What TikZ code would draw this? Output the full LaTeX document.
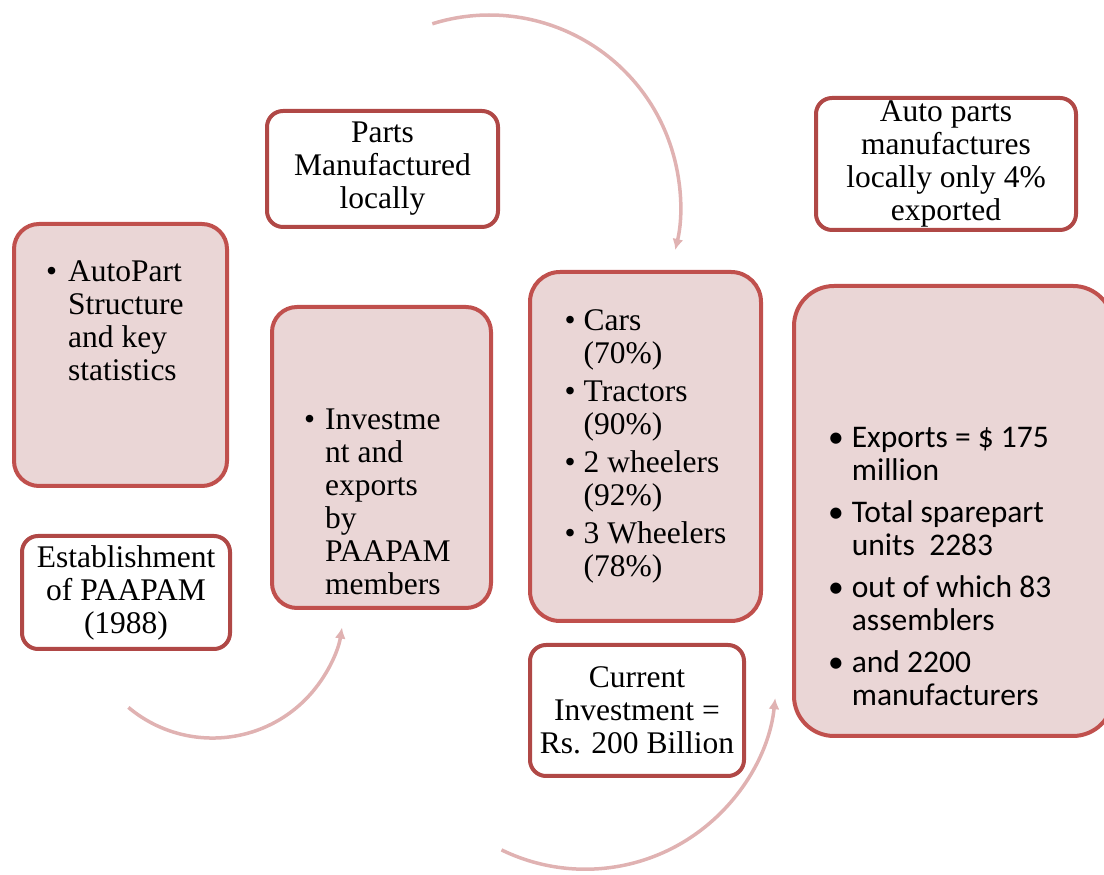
\documentclass[tikz,border=0pt]{standalone}
\usepackage{fontspec}
\setmainfont{Liberation Serif}
\newfontfamily\calibri{Carlito}
\usetikzlibrary{shapes,arrows.meta}

\definecolor{boxpink}{RGB}{234,214,214}
\definecolor{boxred}{RGB}{192,80,77}
\definecolor{darkred}{RGB}{176,72,70}
\definecolor{arcpink}{RGB}{224,178,178}

\newcommand{\bigfont}{\fontsize{31.5}{33}\selectfont}

\begin{document}
\begin{tikzpicture}[x=1pt,y=1pt,
  pinkbox/.style={draw=boxred, fill=boxpink, line width=4pt, rounded corners=#1},
  pinkbox/.default=25pt,
  whitebox/.style={draw=darkred, fill=white, line width=4pt, rounded corners=16pt,
    align=center, font=\bigfont, inner sep=0pt},
  txt/.style={inner sep=0pt, font=\bigfont},
  curlarrow/.style={draw=arcpink, line width=3.5pt, -{Latex[length=11pt,width=11pt]}}]

\useasboundingbox (0,0) rectangle (1104,875);

% curved arrows
\coordinate (topstart) at (432.3,851.2);
\coordinate (leftstart) at (128.4,167.6);
\coordinate (rightstart) at (501.5,25.1);

\draw[curlarrow] (topstart) arc[start angle=107.4, end angle=-13.3, radius=191];
\draw[curlarrow] (leftstart) arc[start angle=-130, end angle=-9, radius=131];
\draw[curlarrow] (rightstart) arc[start angle=-116, end angle=-6, radius=191];

% left column
\node[pinkbox, minimum width=213pt, minimum height=262pt] (structure) at (120.5,520) {};
\node[txt, anchor=north west] (structuretext) at (46,617) {\begin{tabular}{@{}l@{\hskip 11pt}l@{}}
\textbullet & AutoPart\\
 & Structure\\
 & and key\\
 & statistics
\end{tabular}};

\node[whitebox, minimum width=208pt, minimum height=113pt] (establish) at (126,282.5) {Establishment\\of PAAPAM\\(1988)};

% second column
\node[whitebox, minimum width=231pt, minimum height=116pt] (parts) at (382.5,706) {Parts\\Manufactured\\locally};

\node[pinkbox, minimum width=219pt, minimum height=301pt] (invest) at (381.5,417.5) {};
\node[txt, anchor=north west] (investtext) at (304,469) {\begin{tabular}{@{}l@{\hskip 10pt}l@{}}
\textbullet & Investme\\
 & nt and\\
 & exports\\
 & by\\
 & PAAPAM\\
 & members
\end{tabular}};

% third column
\node[pinkbox=30pt, txt, minimum width=231pt, minimum height=349pt] (vehicles) at (645.5,428.5) {\begin{tabular}{@{}l@{\hskip 8pt}l@{}}
\textbullet & Cars\\
 & (70\%)\\[5pt]
\textbullet & Tractors\\
 & (90\%)\\[5pt]
\textbullet & 2 wheelers\\
 & (92\%)\\[5pt]
\textbullet & 3 Wheelers\\
 & (78\%)
\end{tabular}};

\node[whitebox, minimum width=214pt, minimum height=131pt] (current) at (637,164.5) {Current\\Investment =\\Rs. 200 Billion};

% right column
\node[whitebox, minimum width=260pt, minimum height=132pt] (localexport) at (946,711) {Auto parts\\manufactures\\locally only 4\%\\exported};

\node[pinkbox=40pt, minimum width=319pt, minimum height=450pt] (exports) at (953.5,364) {};
\node[txt, font=\bigfont\calibri, anchor=north west] (exportstext) at (828,451) {\begin{tabular}{@{}l@{\hskip 8pt}l@{}}
\textbullet & Exports = \$ 175\\
 & million\\[9pt]
\textbullet & Total sparepart\\
 & units\ \ 2283\\[9pt]
\textbullet & out of which 83\\
 & assemblers\\[9pt]
\textbullet & and 2200\\
 & manufacturers
\end{tabular}};

\end{tikzpicture}
\end{document}
